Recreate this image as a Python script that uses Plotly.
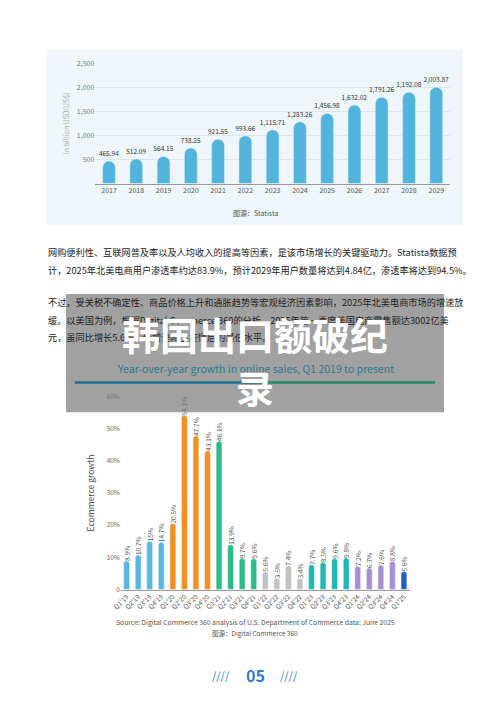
import plotly.graph_objects as go

years = ["2017","2018","2019","2020","2021","2022","2023","2024","2025","2026","2027","2028","2029"]
revenue = [465.94,512.09,564.15,738.25,921.55,993.66,1115.71,1283.26,1456.98,1632.02,1791.26,1900.0,2003.87]
revenue_labels = ["465.94","512.09","564.15","738.25","921.55","993.66","1,115.71","1,283.26","1,456.98","1,632.02","1,791.26","1,192.08","2,003.87"]

quarters = ["Q1'19","Q2'19","Q3'19","Q4'19","Q1'20","Q2'20","Q3'20","Q4'20","Q1'21","Q2'21","Q3'21","Q4'21",
            "Q1'22","Q2'22","Q3'22","Q4'22","Q1'23","Q2'23","Q3'23","Q4'23","Q1'24","Q2'24","Q3'24","Q4'24","Q1'25"]
growth = [8.9,10.7,15,14.7,20.5,54.1,47.7,43.1,46.1,13.9,9.7,9.6,5.6,3.5,7.4,3.4,7.7,8.5,9.6,9.8,7.2,6.7,7.6,8.8,5.6]
growth_labels = ["8.9%","10.7%","15%","14.7%","20.5%","54.1%","47.7%","43.1%","46.1%","13.9%","9.7%","9.6%",
                 "5.6%","3.5%","7.4%","3.4%","7.7%","8.5%","9.6%","9.8%","7.2%","6.7%","7.6%","8.8%","5.6%"]
year_colors = {"19":"#58b5df","20":"#f5901e","21":"#2dbb8a","22":"#c2c2c2","23":"#1dbab1","24":"#a88fcf","25":"#1f5fbf"}

W, H = 484, 691
def fx(px): return (px - 8) / W
def fy(py): return 1 - (py - 8) / H

fig = go.Figure()
fig.add_trace(go.Bar(x=years, y=revenue, text=revenue_labels, textposition="outside", constraintext="none",
                     textfont=dict(size=6.5, color="#333"), marker_color="#52b3dc", width=0.47,
                     cliponaxis=False, xaxis="x", yaxis="y"))
fig.add_trace(go.Bar(x=quarters, y=growth, text=growth_labels, textposition="outside", textangle=-90,
                     constraintext="none",
                     textfont=dict(size=6.5, color="#555"), marker_color=[year_colors[q[-2:]] for q in quarters],
                     width=0.5, cliponaxis=False, xaxis="x2", yaxis="y2"))

fig.update_layout(
    width=W, height=H, margin=dict(l=0, r=0, t=0, b=0), showlegend=False,
    paper_bgcolor="white", plot_bgcolor="rgba(0,0,0,0)", barcornerradius="50%",
    font=dict(family="Noto Sans CJK SC, Noto Sans", color="#333"),
    xaxis=dict(domain=[fx(87), fx(449)], tickfont=dict(size=7, color="#555"), showline=True,
               linecolor="#999", ticks="", anchor="y"),
    yaxis=dict(domain=[fy(180), fy(58)], range=[0, 2500], tickvals=[500,1000,1500,2000,2500],
               ticktext=["500","1,000","1,500","2,000","2,500"], tickfont=dict(size=7, color="#777"),
               gridcolor="#dde6ee", zeroline=False, anchor="x",
               title=dict(text="in billion USD(US$)", font=dict(size=7, color="#aaa"), standoff=6)),
    xaxis2=dict(domain=[fx(113), fx(408)], tickangle=-45, tickfont=dict(size=6.5, color="#555"),
                showline=True, linecolor="#999", anchor="y2"),
    yaxis2=dict(domain=[fy(592), fy(396)], range=[0, 60], tickvals=[0,10,20,30,40,50,60],
                ticktext=["0","10%","20%","30%","40%","50%","60%"], tickfont=dict(size=6.5, color="#666"),
                showgrid=False, zeroline=False, anchor="x2",
                title=dict(text="Ecommerce growth", font=dict(size=8.5, color="#444"), standoff=10)),
)

shapes = [
    dict(type="rect", xref="paper", yref="paper", x0=fx(37), x1=fx(462), y0=fy(222), y1=fy(44),
         fillcolor="#eef5fb", line_width=0, layer="below"),
    dict(type="rect", xref="paper", yref="paper", x0=fx(57), x1=fx(443), y0=fy(412), y1=fy(292),
         fillcolor="rgba(125,125,125,0.72)", line_width=0, layer="above"),
    dict(type="line", xref="paper", yref="paper", x0=fx(66), x1=fx(250), y0=fy(382), y1=fy(382),
         line=dict(color="#1e6f94", width=2.5), layer="above"),
    dict(type="line", xref="paper", yref="paper", x0=fx(250), x1=fx(434), y0=fy(382), y1=fy(382),
         line=dict(color="#25876b", width=2.5), layer="above"),
]
fig.update_layout(shapes=shapes)

def txt(x, y, s, size=9.5, color="#222", xanchor="left", **kw):
    fig.add_annotation(x=fx(x), y=fy(y), xref="paper", yref="paper", text=s, showarrow=False,
                       xanchor=xanchor, yanchor="middle", font=dict(size=size, color=color), **kw)

txt(250, 210, "图源：Statista", size=7, color="#555", xanchor="center")
txt(37, 250, "网购便利性、互联网普及率以及人均收入的提高等因素，是该市场增长的关键驱动力。Statista数据预", size=9.2)
txt(37, 268, "计，2025年北美电商用户渗透率约达83.9%，预计2029年用户数量将达到4.84亿，渗透率将达到94.5%。", size=9.2)
txt(37, 300, "不过，受关税不确定性、商品价格上升和通胀趋势等宏观经济因素影响，2025年北美电商市场的增速放", size=9.2)
txt(37, 318, "缓。以美国为例，根据Digital Commerce 360的分析，2025年第一季度美国电商零售额达3002亿美", size=9.2)
txt(37, 336, "元，虽同比增长5.6%，但增速降至疫情后的最低水平。", size=9.2)
txt(250, 368, "Year-over-year growth in online sales, Q1 2019 to present", size=10.5, color="#2b7c8f", xanchor="center")
txt(250, 332, "<b>韩国出口额破纪</b>", size=38, color="white", xanchor="center")
txt(250, 386, "<b>录</b>", size=38, color="white", xanchor="center")
txt(250, 625, "Source: Digital Commerce 360 analysis of U.S. Department of Commerce data; June 2025", size=6.8, color="#555", xanchor="center")
txt(250, 636, "图源：Digital Commerce 360", size=6.5, color="#555", xanchor="center")
txt(250, 679, "<b>05</b>", size=16, color="#2f7bd0", xanchor="center")
txt(215, 679, "////", size=11, color="#2f7bd0", xanchor="center")
txt(285, 679, "////", size=11, color="#2f7bd0", xanchor="center")

fig.write_html("out.html")
